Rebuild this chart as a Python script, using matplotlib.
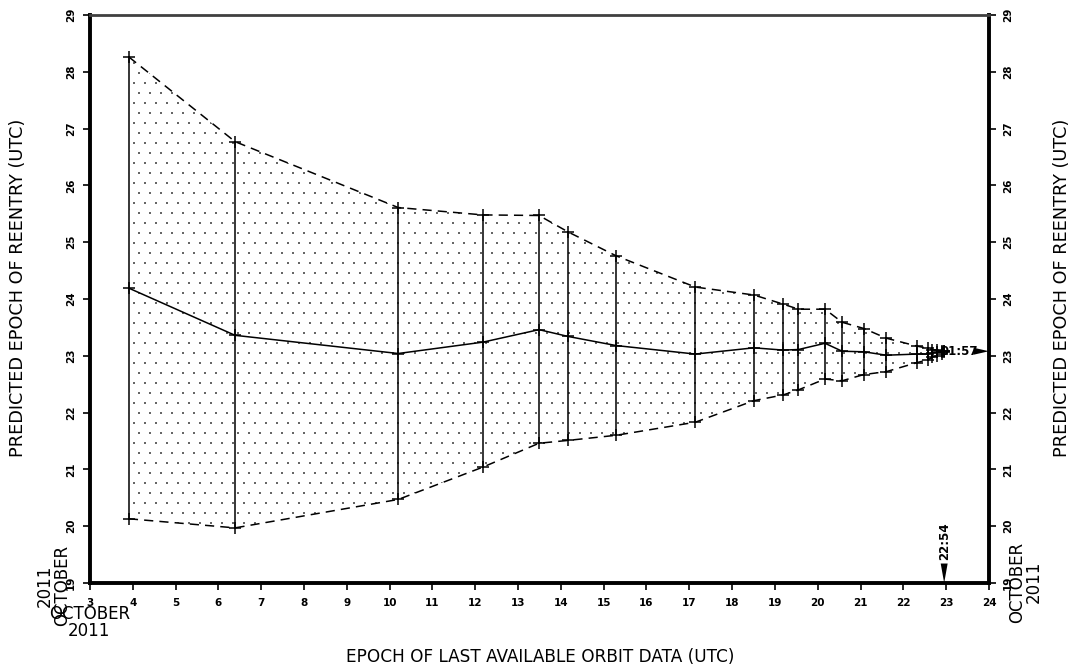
import numpy as np
import matplotlib
matplotlib.use("Agg")
import matplotlib.pyplot as plt

# epoch of last orbit data (days of October 2011)
epoch = [3.91, 6.39, 10.20, 12.18, 13.49, 14.17, 15.29, 17.14, 18.51, 19.19,
         19.55, 20.17, 20.57, 21.08, 21.60, 22.32, 22.58, 22.66, 22.78, 22.90, 22.954]
# predicted reentry (days of October 2011)
pred = [24.19, 23.36, 23.04, 23.24, 23.46, 23.34, 23.18, 23.03, 23.14, 23.10,
        23.11, 23.22, 23.08, 23.07, 23.01, 23.03, 23.03, 23.05, 23.06, 23.07, 23.08]
upper = [28.26, 26.77, 25.61, 25.48, 25.47, 25.18, 24.76, 24.21, 24.07, 23.91,
         23.82, 23.82, 23.59, 23.48, 23.31, 23.17, 23.13, 23.11, 23.10, 23.09, 23.08]
lower = [20.13, 19.97, 20.47, 21.04, 21.46, 21.51, 21.60, 21.83, 22.21, 22.31,
         22.40, 22.59, 22.56, 22.67, 22.72, 22.88, 22.93, 22.97, 23.00, 23.03, 23.06]

xticks = list(range(3, 25))
yticks = list(range(19, 30))

fig = plt.figure(figsize=(10.76, 6.69), dpi=100)
ax = fig.add_axes([0.0836, 0.1286, 0.8355, 0.849])
ax.set_xlim(3, 24)
ax.set_ylim(19, 29)

# stippled uncertainty band
band = ax.fill_between(epoch, lower, upper, facecolor="none", edgecolor="none")
gx = np.arange(3, 24, 0.257)
gy = np.arange(19, 29, 0.176)
px, py = [], []
for i, yy in enumerate(gy):
    off = 0.1285 if i % 2 else 0
    px.extend(gx + off)
    py.extend([yy] * len(gx))
dots = ax.scatter(px, py, s=0.9, c="0.4", marker="s", linewidths=0)
dots.set_clip_path(band.get_paths()[0], transform=ax.transData)

ax.plot(epoch, upper, color="black", lw=1.1, ls=(0, (6, 4)))
ax.plot(epoch, lower, color="black", lw=1.1, ls=(0, (6, 4)))
ax.plot(epoch, pred, color="black", lw=1.1)
ax.vlines(epoch, lower, upper, color="black", lw=1.1)
for ser in (upper, lower, pred):
    ax.plot(epoch, ser, ls="none", marker="+", ms=8, mew=1.1, color="black")

# axes styling
for side in ("left", "bottom", "right"):
    ax.spines[side].set_linewidth(2.8)
ax.spines["top"].set_linewidth(2)
ax.spines["top"].set_color("0.25")
ax.set_xticks(xticks)
ax.set_yticks(yticks)
ax.tick_params(axis="x", direction="out", length=5, width=1.2, labelsize=7.5, pad=6)
ax.tick_params(axis="y", direction="out", length=5, width=1.2, labelsize=7.5, pad=5,
               right=True, labelright=True, labelrotation=90)
for lab in ax.get_xticklabels():
    lab.set_fontweight("bold")
for t in ax.yaxis.get_major_ticks():
    for lab in (t.label1, t.label2):
        lab.set_fontweight("bold")
        lab.set_va("center")

fig.text(0.017, 0.569, "PREDICTED EPOCH OF REENTRY (UTC)", rotation=90,
         ha="center", va="center", fontsize=12.7)
fig.text(0.987, 0.569, "PREDICTED EPOCH OF REENTRY (UTC)", rotation=90,
         ha="center", va="center", fontsize=12.7)
fig.text(0.502, 0.018, "EPOCH OF LAST AVAILABLE ORBIT DATA (UTC)",
         ha="center", va="center", fontsize=12.2)

fig.text(0.050, 0.125, "2011\nOCTOBER", rotation=90, ha="center", va="center",
         fontsize=12, linespacing=0.95)
fig.text(0.083, 0.070, "OCTOBER\n2011", ha="center", va="center",
         fontsize=12, linespacing=0.95)
fig.text(0.953, 0.130, "OCTOBER\n2011", rotation=90, ha="center", va="center",
         fontsize=12, linespacing=0.95)

# last data epoch marker
ax.annotate("", xy=(22.954, 19.0), xytext=(22.954, 19.26),
            arrowprops=dict(facecolor="black", edgecolor="none", width=0.1,
                            headwidth=5, headlength=14, shrink=0))
ax.text(22.954, 19.40, "22:54", rotation=90, ha="center", va="bottom",
        fontsize=8.5, fontweight="bold")
# predicted reentry marker
ax.annotate("", xy=(24.0, 23.08), xytext=(23.72, 23.08),
            arrowprops=dict(facecolor="black", edgecolor="none", width=0.1,
                            headwidth=5, headlength=11, shrink=0),
            annotation_clip=False)
ax.text(22.86, 23.08, "01:57", ha="left", va="center", fontsize=8.5, fontweight="bold")

fig.savefig("out.png", dpi=100)
